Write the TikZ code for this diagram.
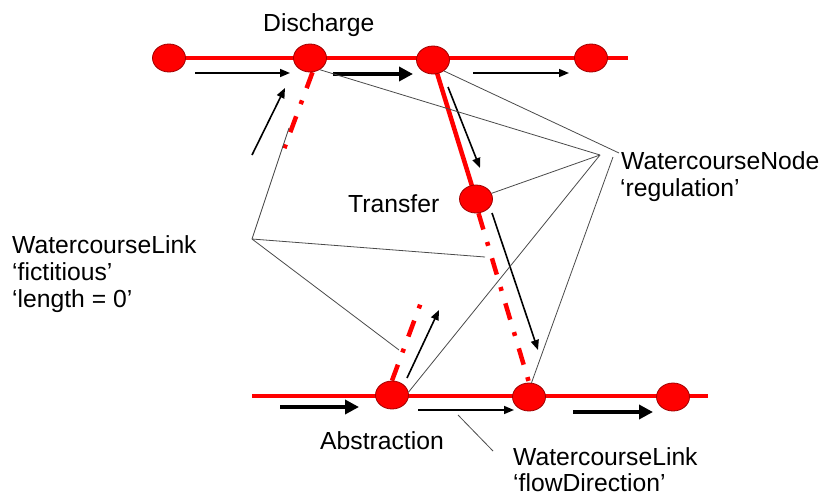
\documentclass[tikz,border=0pt]{standalone}
\usepackage{fontspec}
\setmainfont{Liberation Sans}
\usetikzlibrary{shapes.geometric,arrows.meta,backgrounds}
\definecolor{wred}{HTML}{FF0000}
\definecolor{wdark}{HTML}{A00000}
\definecolor{lead}{HTML}{4A4A4A}
\tikzset{
  wnode/.style={ellipse,fill=wred,draw=wdark,line width=0.8,minimum width=33,minimum height=28,inner sep=0},
  redline/.style={wred,line width=4.5},
  reddash/.style={wred,line width=4.5,dash pattern=on 17 off 13 on 4 off 13},
  thinarrow/.style={black,line width=1.6,-{Triangle[length=10,width=8]}},
  thickarrow/.style={black,line width=4.5,-{Triangle[length=14,width=14]}},
  leader/.style={lead,line width=0.8},
  lbl/.style={font=\fontsize{24.7}{27}\selectfont,inner sep=0,anchor=base west}
}
\begin{document}
\begin{tikzpicture}[x=1pt,y=-1pt]
\useasboundingbox (0,0) rectangle (822,498);
% nodes
\node[wnode] (t1) at (169,58) {};
\node[wnode] (t2) at (310,58) {};
\node[wnode] (t3) at (433,60) {};
\node[wnode] (t4) at (591,58) {};
\node[wnode] (tr) at (476,199) {};
\node[wnode] (b1) at (392,395) {};
\node[wnode] (b2) at (529,397) {};
\node[wnode] (b3) at (673,397) {};
% free coordinates
\coordinate (tEnd) at (628,58);
\coordinate (bStart) at (252,396);
\coordinate (bEnd) at (708,396);
\coordinate (fd1) at (280,160);
\coordinate (fd2) at (423,297);
\begin{scope}[on background layer]
\draw[redline] (t1.center) -- (tEnd);
\draw[redline] (bStart) -- (bEnd);
\draw[redline] (t3.center) -- (tr.center);
\draw[reddash] (t2.-80) -- (fd1);
\draw[reddash] (tr.-80) -- (b2.north);
\draw[reddash] (b1.north) -- (fd2);
\end{scope}
% flow arrows
\coordinate (a1s) at (195,73); \coordinate (a1e) at (290,73);
\coordinate (a2s) at (252,155); \coordinate (a2e) at (285,88);
\coordinate (a3s) at (473,73); \coordinate (a3e) at (569,73);
\coordinate (a4s) at (448,87); \coordinate (a4e) at (480,168);
\coordinate (a5s) at (492,213); \coordinate (a5e) at (538,350);
\coordinate (a6s) at (407,378); \coordinate (a6e) at (439,310);
\coordinate (a7s) at (418,410); \coordinate (a7e) at (514,410);
\coordinate (A1s) at (333,74); \coordinate (A1e) at (413,74);
\coordinate (A2s) at (280,407); \coordinate (A2e) at (359,407);
\coordinate (A3s) at (573,412); \coordinate (A3e) at (653,412);
\draw[thinarrow] (a1s) -- (a1e);
\draw[thinarrow] (a2s) -- (a2e);
\draw[thinarrow] (a3s) -- (a3e);
\draw[thinarrow] (a4s) -- (a4e);
\draw[thinarrow] (a5s) -- (a5e);
\draw[thinarrow] (a6s) -- (a6e);
\draw[thinarrow] (a7s) -- (a7e);
\draw[thickarrow] (A1s) -- (A1e);
\draw[thickarrow] (A2s) -- (A2e);
\draw[thickarrow] (A3s) -- (A3e);
% leader points
\coordinate (P1) at (600,155);
\coordinate (P2) at (619,153);
\coordinate (P3) at (613,157);
\coordinate (Q) at (252,239);
\coordinate (qa) at (289,128);
\coordinate (qb) at (485,257);
\coordinate (qc) at (399,350);
\coordinate (fa) at (458,415);
\coordinate (fb) at (493,451);
\draw[leader] (t2.-50) -- (P1);
\draw[leader] (t3.-45) -- (P2);
\draw[leader] (tr.20) -- (P1);
\draw[leader] (b1.10) -- (P1);
\draw[leader] (b2.80) -- (P3);
\draw[leader] (Q) -- (qa);
\draw[leader] (Q) -- (qb);
\draw[leader] (Q) -- (qc);
\draw[leader] (fa) -- (fb);
% labels
\node[lbl] (discharge) at (263,31) {Discharge};
\node[lbl] (transfer) at (348,212) {Transfer};
\node[lbl] (abstraction) at (320,449) {Abstraction};
\node[lbl] (wn1) at (621,169) {WatercourseNode};
\node[lbl] (wn2) at (620,196) {‘regulation’};
\node[lbl] (wf1) at (12,253) {WatercourseLink};
\node[lbl] (wf2) at (12,280) {‘fictitious’};
\node[lbl] (wf3) at (12,307) {‘length = 0’};
\node[lbl] (wd1) at (513,465) {WatercourseLink};
\node[lbl] (wd2) at (513,491) {‘flowDirection’};
\end{tikzpicture}
\end{document}
